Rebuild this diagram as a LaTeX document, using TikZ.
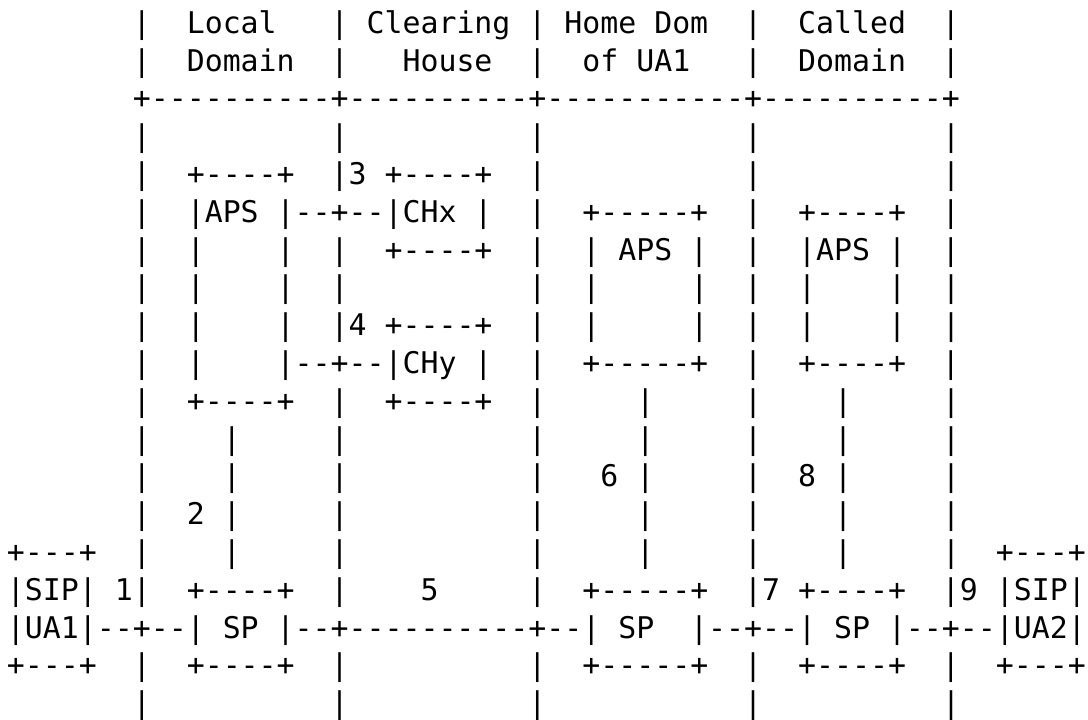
\documentclass[tikz,border=0pt]{standalone}
\usepackage{fontspec}
\newfontfamily\asciifont{DejaVu Sans Mono}
\begin{document}
\begin{tikzpicture}[x=0.75pt,y=-0.75pt,
  row/.style={anchor=base west, inner sep=0pt, outer sep=0pt, text=black,
    font=\asciifont\fontsize{22.4pt}{28pt}\selectfont}]
\useasboundingbox[fill=white] (0,0) rectangle (1088,719);
\def\lx{7}
\node[row] (r1)  at (\lx, 33.3) {~~~~~~~|~~Local~~~|~Clearing~|~Home~Dom~~|~~Called~~|};
\node[row] (r2)  at (\lx, 71.1) {~~~~~~~|~~Domain~~|~~~House~~|~~of~UA1~~~|~~Domain~~|};
\node[row] (r3)  at (\lx, 108.9) {~~~~~~~+----------+----------+-----------+----------+};
\node[row] (r4)  at (\lx, 146.7) {~~~~~~~|~~~~~~~~~~|~~~~~~~~~~|~~~~~~~~~~~|~~~~~~~~~~|};
\node[row] (r5)  at (\lx, 184.5) {~~~~~~~|~~+----+~~|3~+----+~~|~~~~~~~~~~~|~~~~~~~~~~|};
\node[row] (r6)  at (\lx, 222.3) {~~~~~~~|~~|APS~|--+--|CHx~|~~|~~+-----+~~|~~+----+~~|};
\node[row] (r7)  at (\lx, 260.1) {~~~~~~~|~~|~~~~|~~|~~+----+~~|~~|~APS~|~~|~~|APS~|~~|};
\node[row] (r8)  at (\lx, 297.9) {~~~~~~~|~~|~~~~|~~|~~~~~~~~~~|~~|~~~~~|~~|~~|~~~~|~~|};
\node[row] (r9)  at (\lx, 335.7) {~~~~~~~|~~|~~~~|~~|4~+----+~~|~~|~~~~~|~~|~~|~~~~|~~|};
\node[row] (r10) at (\lx, 373.5) {~~~~~~~|~~|~~~~|--+--|CHy~|~~|~~+-----+~~|~~+----+~~|};
\node[row] (r11) at (\lx, 411.3) {~~~~~~~|~~+----+~~|~~+----+~~|~~~~~|~~~~~|~~~~|~~~~~|};
\node[row] (r12) at (\lx, 449.1) {~~~~~~~|~~~~|~~~~~|~~~~~~~~~~|~~~~~|~~~~~|~~~~|~~~~~|};
\node[row] (r13) at (\lx, 486.9) {~~~~~~~|~~~~|~~~~~|~~~~~~~~~~|~~~6~|~~~~~|~~8~|~~~~~|};
\node[row] (r14) at (\lx, 524.7) {~~~~~~~|~~2~|~~~~~|~~~~~~~~~~|~~~~~|~~~~~|~~~~|~~~~~|};
\node[row] (r15) at (\lx, 562.5) {+---+~~|~~~~|~~~~~|~~~~~~~~~~|~~~~~|~~~~~|~~~~|~~~~~|~~+---+};
\node[row] (r16) at (\lx, 600.3) {|SIP|~1|~~+----+~~|~~~~5~~~~~|~~+-----+~~|7~+----+~~|9~|SIP|};
\node[row] (r17) at (\lx, 638.1) {|UA1|--+--|~SP~|--+----------+--|~SP~~|--+--|~SP~|--+--|UA2|};
\node[row] (r18) at (\lx, 675.9) {+---+~~|~~+----+~~|~~~~~~~~~~|~~+-----+~~|~~+----+~~|~~+---+};
\node[row] (r19) at (\lx, 713.7) {~~~~~~~|~~~~~~~~~~|~~~~~~~~~~|~~~~~~~~~~~|~~~~~~~~~~|};
\end{tikzpicture}
\end{document}
